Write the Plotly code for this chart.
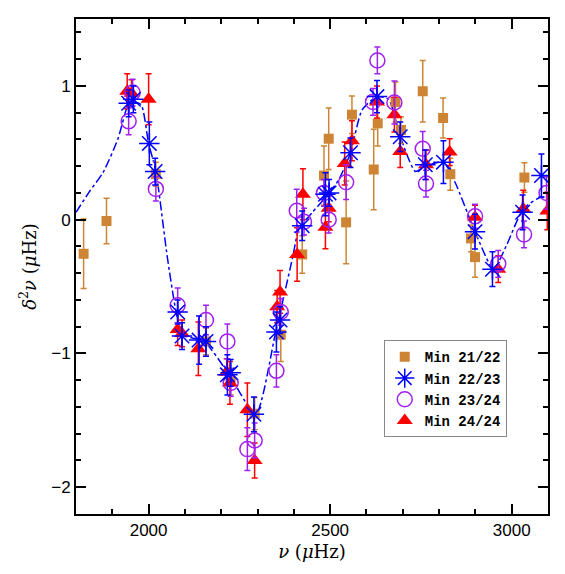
"""Segundas diferencias de frecuencia para cuatro mínimos solares."""

import plotly.graph_objects as go

# Min 21/22
nu_2122 = [1821, 1884, 2020, 2158, 2226, 2292, 2364, 2423, 2483, 2496, 2544, 2560,
           2620, 2631, 2680, 2695, 2755, 2811, 2831, 2888, 2899, 3035]
d2_2122 = [-0.255, -0.01, 0.34, -0.91, -1.21, -1.45, -0.86, -0.26, 0.33, 0.605, -0.02, 0.785,
           0.375, 0.72, 0.88, 0.67, 0.96, 0.76, 0.34, -0.14, -0.28, 0.315]
err_2122 = [0.26, 0.17, 0.09, 0.10, 0.10, 0.12, 0.20, 0.14, 0.22, 0.23, 0.31, 0.14,
            0.30, 0.17, 0.15, 0.10, 0.23, 0.15, 0.12, 0.10, 0.15, 0.11]

# Min 22/23
nu_2223 = [1945, 1958, 2002, 2018, 2080, 2092, 2139, 2158, 2217, 2226, 2290, 2352, 2362,
           2423, 2487, 2497, 2556, 2629, 2693, 2762, 2812, 2899, 2947, 3030, 3082]
d2_2223 = [0.87, 0.90, 0.57, 0.36, -0.69, -0.87, -0.90, -0.91, -1.16, -1.145, -1.455, -0.84, -0.75,
           -0.045, 0.19, 0.20, 0.50, 0.92, 0.62, 0.41, 0.43, -0.09, -0.37, 0.055, 0.33]
err_2223 = [0.10, 0.10, 0.16, 0.10, 0.09, 0.10, 0.18, 0.11, 0.15, 0.10, 0.13, 0.15, 0.10,
            0.11, 0.16, 0.10, 0.11, 0.12, 0.11, 0.11, 0.16, 0.13, 0.13, 0.13, 0.16]

# Min 23/24
nu_2324 = [1945, 1956, 2020, 2080, 2158, 2217, 2226, 2272, 2292, 2352, 2364, 2408, 2428,
           2483, 2496, 2544, 2618, 2630, 2677, 2755, 2764, 2899, 2963, 3034, 3096]
d2_2324 = [0.735, 0.95, 0.23, -0.64, -0.75, -0.91, -1.22, -1.715, -1.65, -1.13, -0.69, 0.067, -0.015,
           0.20, 0.00, 0.28, 0.88, 1.19, 0.876, 0.53, 0.27, 0.025, -0.33, -0.11, 0.20]
err_2324 = [0.10, 0.10, 0.09, 0.13, 0.11, 0.13, 0.10, 0.16, 0.13, 0.12, 0.10, 0.16, 0.10,
            0.10, 0.10, 0.13, 0.10, 0.10, 0.16, 0.13, 0.10, 0.09, 0.10, 0.10, 0.12]

# Min 24/24
nu_2424 = [1941, 1953, 2000, 2080, 2092, 2137, 2215, 2224, 2272, 2292, 2354, 2362, 2409, 2425,
           2487, 2496, 2540, 2560, 2629, 2677, 2693, 2764, 2829, 2899, 2963, 3032, 3098]
d2_2424 = [0.96, 0.945, 0.90, -0.82, -0.85, -0.965, -1.14, -1.22, -1.42, -1.80, -0.65, -0.54, -0.26, 0.19,
           -0.057, 0.085, 0.42, 0.59, 0.88, 0.785, 0.51, 0.41, 0.505, 0.018, -0.37, 0.08, 0.065]
err_2424 = [0.13, 0.10, 0.19, 0.12, 0.10, 0.20, 0.10, 0.16, 0.20, 0.13, 0.12, 0.16, 0.20, 0.19,
            0.16, 0.10, 0.16, 0.15, 0.12, 0.13, 0.12, 0.11, 0.10, 0.09, 0.10, 0.14, 0.14]

# ajuste (línea punto-raya)
nu_fit = [1800, 1837, 1874, 1915, 1942, 1952, 1979, 2000, 2020, 2052, 2075, 2093, 2153, 2222,
          2295, 2350, 2396, 2414, 2451, 2492, 2524, 2556, 2588, 2629, 2661, 2693, 2735, 2762,
          2812, 2844, 2899, 2950, 2986, 3032, 3082, 3100]
d2_fit = [0.055, 0.21, 0.35, 0.60, 0.85, 0.88, 0.86, 0.57, 0.36, -0.29, -0.68, -0.86, -0.91, -1.16,
          -1.455, -0.84, -0.29, -0.07, 0.055, 0.18, 0.30, 0.50, 0.82, 0.92, 0.90, 0.62, 0.36, 0.40,
          0.43, 0.28, -0.09, -0.37, -0.19, 0.08, 0.17, 0.15]

ORANGE = "#CD8535"
BLUE = "#0000FF"
PURPLE = "#A020F0"
RED = "#FF0000"


def err(vals, color):
    return dict(type="data", array=vals, color=color, thickness=1.5, width=3)


fig = go.Figure()
fig.add_trace(go.Scatter(
    x=nu_fit, y=d2_fit, mode="lines", showlegend=False,
    line=dict(color=BLUE, width=1.5, dash="dashdot", shape="spline", smoothing=0.6),
))
fig.add_trace(go.Scatter(
    x=nu_2122, y=d2_2122, mode="markers", name="Min 21/22", legendrank=1,
    marker=dict(symbol="square", size=10, color=ORANGE),
    error_y=err(err_2122, ORANGE),
))
fig.add_trace(go.Scatter(
    x=nu_2424, y=d2_2424, mode="markers", name="Min 24/24", legendrank=4,
    marker=dict(symbol="triangle-up", size=14, color=RED),
    error_y=err(err_2424, RED),
))
fig.add_trace(go.Scatter(
    x=nu_2324, y=d2_2324, mode="markers", name="Min 23/24", legendrank=3,
    marker=dict(symbol="circle-open", size=15, color=PURPLE, line=dict(width=1.5)),
    error_y=err(err_2324, PURPLE),
))
fig.add_trace(go.Scatter(
    x=nu_2223, y=d2_2223, mode="markers", name="Min 22/23", legendrank=2,
    marker=dict(symbol="asterisk-open", size=17, color=BLUE, line=dict(width=1.5, color=BLUE)),
    error_y=err(err_2223, BLUE),
))

axis_common = dict(
    showline=True, linecolor="black", linewidth=2, mirror="ticks",
    ticks="inside", ticklen=10, tickwidth=1.5, tickcolor="black",
    showgrid=False, zeroline=False,
    tickfont=dict(family="Liberation Sans, Arial, sans-serif", size=17, color="black"),
)
fig.update_xaxes(
    range=[1800, 3100], dtick=500, tick0=2000,
    minor=dict(dtick=100, ticks="inside", ticklen=5, tickwidth=1.5, tickcolor="black"),
    title=dict(text="<i>ν</i> (<i>μ</i>Hz)", standoff=6,
               font=dict(family="DejaVu Serif, serif", size=18, color="black")),
    **axis_common,
)
fig.update_yaxes(
    range=[-2.2, 1.5], dtick=1, tick0=0,
    minor=dict(dtick=0.2, ticks="inside", ticklen=5, tickwidth=1.5, tickcolor="black"),
    title=dict(text="<i>δ</i><sup>2</sup><i>ν</i> (<i>μ</i>Hz)", standoff=10,
               font=dict(family="DejaVu Serif, serif", size=18, color="black")),
    **axis_common,
)
fig.update_layout(
    width=549, height=558,
    margin=dict(l=68, r=7, t=11, b=49),
    plot_bgcolor="white", paper_bgcolor="white",
    legend=dict(
        x=0.652, y=0.351, xanchor="left", yanchor="top",
        bgcolor="white", bordercolor="#888888", borderwidth=1,
        font=dict(family="Liberation Mono, Courier New, monospace", size=14,
                  color="black", weight="bold"),
        tracegroupgap=7, traceorder="normal",
    ),
)

fig.write_html("out.html")
